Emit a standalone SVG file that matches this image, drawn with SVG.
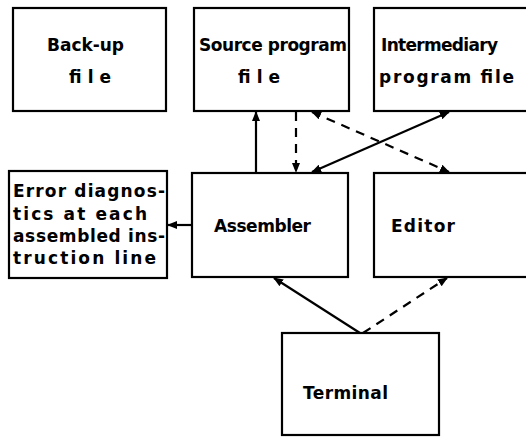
<svg xmlns="http://www.w3.org/2000/svg" width="526" height="439" viewBox="0 0 526 439">
<style>
.box{fill:#fff;stroke:#000;stroke-width:2.2}
.t{font-family:"DejaVu Sans","Liberation Sans",sans-serif;font-weight:bold;font-size:17px;fill:#000}
.c{stroke:#000;stroke-width:2.2;fill:none}
.d{stroke-dasharray:9,7}
</style>
<defs>
<marker id="ah" viewBox="0 0 10 8" refX="9" refY="4" markerWidth="10" markerHeight="8" markerUnits="userSpaceOnUse" orient="auto-start-reverse">
<path d="M0,0 L10,4 L0,8 z" fill="#000"/>
</marker>
</defs>
<rect width="526" height="439" fill="#fff"/>
<g id="backup">
<rect class="box" x="13" y="8" width="153" height="103"/>
<text class="t" x="47" y="51" textLength="77" lengthAdjust="spacing">Back-up</text>
<text class="t" x="69" y="83" textLength="42" lengthAdjust="spacing">file</text>
</g>
<g id="source">
<rect class="box" x="194" y="8" width="155" height="103"/>
<text class="t" x="199" y="51" textLength="148" lengthAdjust="spacing">Source program</text>
<text class="t" x="238" y="83" textLength="42" lengthAdjust="spacing">file</text>
</g>
<g id="intermediary">
<rect class="box" x="374" y="8" width="156" height="103"/>
<text class="t" x="381" y="51" textLength="117" lengthAdjust="spacing">Intermediary</text>
<text class="t" x="379" y="83" textLength="135" lengthAdjust="spacing">program file</text>
</g>
<g id="errors">
<rect class="box" x="9" y="171" width="158" height="107"/>
<text class="t" x="13" y="197" textLength="152" lengthAdjust="spacing">Error diagnos-</text>
<text class="t" x="13" y="220" textLength="134" lengthAdjust="spacing">tics at each</text>
<text class="t" x="13" y="242" textLength="152" lengthAdjust="spacing">assembled ins-</text>
<text class="t" x="13" y="264" textLength="143" lengthAdjust="spacing">truction line</text>
</g>
<g id="assembler">
<rect class="box" x="192" y="173" width="156" height="104"/>
<text class="t" x="214" y="232" textLength="97" lengthAdjust="spacing">Assembler</text>
</g>
<g id="editor">
<rect class="box" x="374" y="173" width="156" height="104"/>
<text class="t" x="391" y="232" textLength="64" lengthAdjust="spacing">Editor</text>
</g>
<g id="terminal">
<rect class="box" x="282" y="333" width="157" height="102"/>
<text class="t" x="303" y="399" textLength="85" lengthAdjust="spacing">Terminal</text>
</g>
<g id="connectors">
<line class="c" x1="256" y1="173" x2="256" y2="112" marker-end="url(#ah)"/>
<line class="c d" x1="296" y1="112" x2="296" y2="172" marker-end="url(#ah)"/>
<line class="c" x1="312" y1="172" x2="449" y2="112" marker-start="url(#ah)" marker-end="url(#ah)"/>
<line class="c d" x1="312" y1="112" x2="449" y2="172" marker-start="url(#ah)" marker-end="url(#ah)"/>
<line class="c" x1="192" y1="225" x2="168" y2="225" marker-end="url(#ah)"/>
<line class="c" x1="360" y1="333" x2="274" y2="278" marker-end="url(#ah)"/>
<line class="c d" x1="363" y1="333" x2="447" y2="278" marker-end="url(#ah)"/>
</g>
</svg>
